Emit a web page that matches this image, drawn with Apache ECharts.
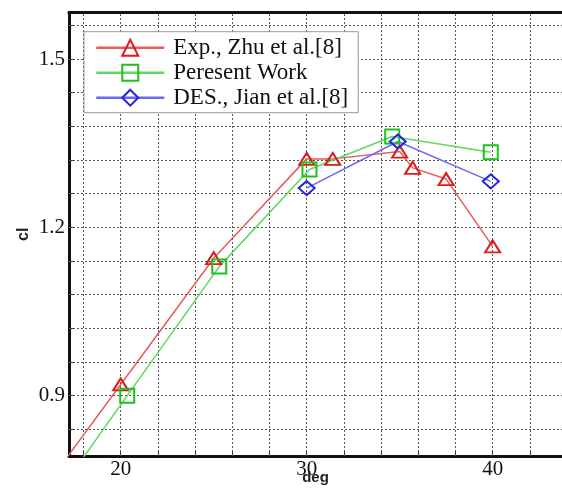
<!DOCTYPE html>
<html>
<head>
<meta charset="utf-8">
<script src="https://cdn.jsdelivr.net/npm/echarts@6/dist/echarts.min.js"></script>
<style>html,body{margin:0;padding:0;background:#fff}#c{width:562px;height:493px}</style>
</head>
<body>
<div id="c"></div>
<script>
// Data
const seriesNames = ['Exp., Zhu et al.[8]', 'Peresent Work', 'DES., Jian et al.[8]'];
const expDeg = [15, 20, 25, 30, 31.4, 35, 35.7, 37.5, 40];
const expCl  = [0.695, 0.92, 1.145, 1.322, 1.322, 1.335, 1.306, 1.286, 1.166];
const presDeg = [15, 20.35, 25.3, 30.15, 34.6, 39.9];
const presCl  = [0.65, 0.90, 1.13, 1.303, 1.362, 1.334];
const desDeg = [30, 34.9, 39.9];
const desCl  = [1.27, 1.353, 1.282];
const xTickLabels = [20, 30, 40];
const yTickLabels = [0.9, 1.2, 1.5];
const xGridValues = [18, 20, 22, 24, 26, 28, 30, 32, 34, 36, 38, 40, 42];
const yGridValues = [0.84, 0.90, 0.96, 1.02, 1.08, 1.14, 1.20, 1.26, 1.32, 1.38, 1.44, 1.50, 1.56];

const pairs = (xs, ys) => xs.map((x, i) => [x, ys[i]]);

const chart = echarts.init(document.getElementById('c'), null, {renderer: 'canvas'});
const serif = 'Liberation Serif';
const X_MIN = 17.22, X_MAX = 43.73, Y_MIN = 0.7925, Y_MAX = 1.5825;

const gridLineStyle = {color: '#555', width: 1, type: [2, 2]};
const markLines = [
  ...xGridValues.map(v => ({xAxis: v})),
  ...yGridValues.map(v => ({yAxis: v}))
];

function lineSeries(name, data, symbol, size, stroke, lineColor) {
  return {
    name, type: 'line', data, z: 3,
    symbol, symbolSize: size,
    clip: true,
    lineStyle: {color: lineColor, width: 1.5},
    itemStyle: {color: 'rgba(255,255,255,0)', borderColor: stroke, borderWidth: 2},
    emphasis: {disabled: true},
    animation: false
  };
}

const option = {
  animation: false,
  grid: {left: 69, top: 12.7, right: 0, bottom: 37, containLabel: false, outerBoundsMode: 'none'},
  legend: {
    orient: 'vertical', left: 84, top: 31.7,
    backgroundColor: '#fff', borderColor: '#999', borderWidth: 1,
    padding: [4, 10, 3, 11],
    itemWidth: 68, itemHeight: 20, itemGap: 1,
    textStyle: {fontFamily: serif, fontSize: 23, color: '#111', lineHeight: 24, padding: [0, 0, 0, 4]},
    data: seriesNames.map(n => ({name: n, lineStyle: {width: 2.5}})),
    selectedMode: false
  },
  xAxis: [{
    type: 'value', min: X_MIN, max: X_MAX,
    name: 'deg', nameLocation: 'middle', nameGap: 14, nameMoveOverlap: false,
    nameTextStyle: {fontFamily: 'Liberation Sans', fontWeight: 'bold', fontSize: 15, color: '#222'},
    axisLine: {show: true, onZero: false, lineStyle: {color: '#111', width: 3}},
    axisTick: {show: true, inside: true, length: 5, customValues: xGridValues, lineStyle: {color: '#333'}},
    axisLabel: {customValues: xTickLabels, margin: 3, fontFamily: serif, fontSize: 21, color: '#111'},
    splitLine: {show: false}
  }, {
    type: 'value', min: X_MIN, max: X_MAX, position: 'top',
    axisLine: {show: true, onZero: false, lineStyle: {color: '#111', width: 3}},
    axisTick: {show: false}, axisLabel: {show: false}, splitLine: {show: false}
  }],
  yAxis: {
    type: 'value', min: Y_MIN, max: Y_MAX,
    name: 'cl', nameLocation: 'middle', nameGap: 37, nameMoveOverlap: false,
    nameTextStyle: {fontFamily: 'Liberation Sans', fontWeight: 'bold', fontSize: 16, color: '#222'},
    axisLine: {show: true, onZero: false, lineStyle: {color: '#111', width: 3}},
    axisTick: {show: true, inside: true, length: 5, customValues: yGridValues, lineStyle: {color: '#333'}},
    axisLabel: {customValues: yTickLabels, margin: 4, fontFamily: serif, fontSize: 21, color: '#111'},
    splitLine: {show: false}
  },
  series: [
    {
      name: 'grid', type: 'line', data: [], z: 1, silent: true,
      markLine: {
        silent: true, symbol: ['none', 'none'], z: 1, animation: false,
        label: {show: false}, emphasis: {disabled: true},
        lineStyle: gridLineStyle,
        data: markLines
      }
    },
    lineSeries(seriesNames[0], pairs(expDeg, expCl), 'triangle', [15, 12], '#d81e1e', '#e65c5c'),
    lineSeries(seriesNames[1], pairs(presDeg, presCl), 'rect', 14, '#1fbf1f', '#5fd95f'),
    lineSeries(seriesNames[2], pairs(desDeg, desCl), 'diamond', [16, 14], '#2323e0', '#6a6af0')
  ]
};
chart.setOption(option);
</script>
</body>
</html>
